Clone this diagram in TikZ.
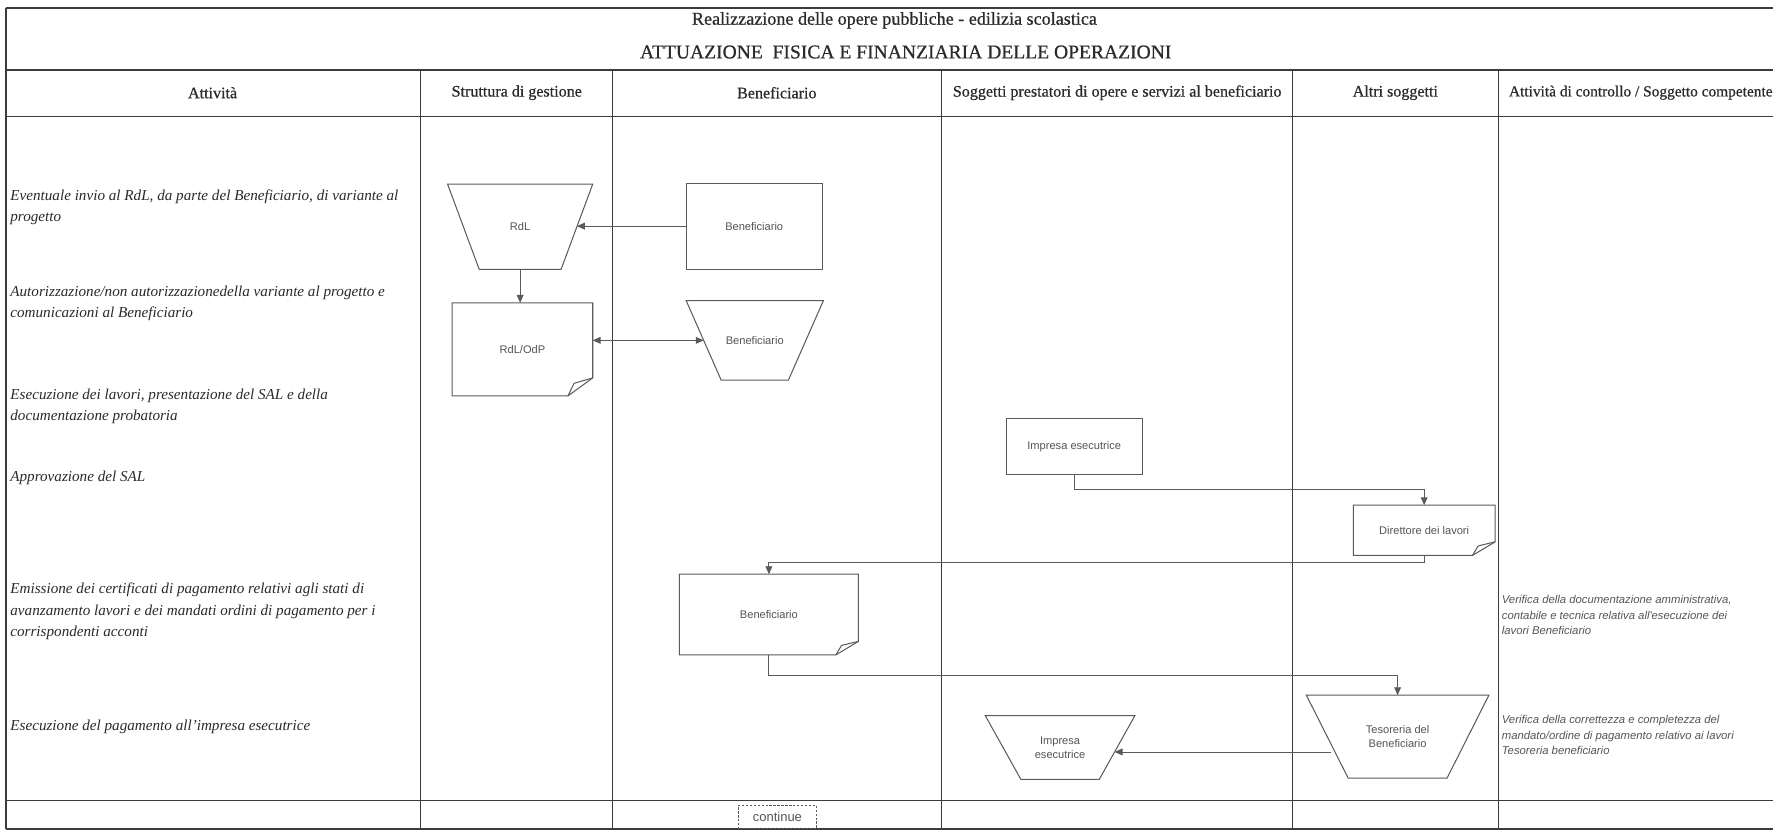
\documentclass[tikz,border=0pt]{standalone}
\usepackage{fontspec}
\setmainfont{Liberation Serif}
\newfontfamily\hdrfont{Liberation Serif}[FakeBold=0.6]
\newfontfamily\boxfont{Liberation Sans}
\usetikzlibrary{arrows.meta,calc}
\definecolor{ink}{HTML}{2A2A2A}
\definecolor{rule}{HTML}{3C3C3C}
\definecolor{shape}{HTML}{5A5A5A}
\definecolor{lbl}{HTML}{555555}
% outline of a trapezoid (wide side on top) inside the bounding box of a node
\newcommand\trapout[2]{\draw[shapeline] (#1.north west) -- (#1.north east) -- ([xshift=-#2]#1.south east) -- ([xshift=#2]#1.south west) -- cycle;}
% outline of a document with a curled bottom-right corner: node, curl width, curl height
\newcommand\docout[3]{%
  \draw[shapeline] ([yshift=#3]#1.south east) -- (#1.north east) -- (#1.north west) -- (#1.south west) -- ([xshift=-#2]#1.south east) -- cycle;
  \draw[shapeline] ([xshift=-#2]#1.south east) -- ([xshift=-0.75*#2,yshift=0.7*#3]#1.south east) -- ([yshift=#3]#1.south east);}
\begin{document}
\begin{tikzpicture}[x=1pt,y=-1pt,
  frameline/.style={draw=rule,line width=1.6pt},
  laneline/.style={draw=rule,line width=0.9pt},
  shapeline/.style={draw=shape,line width=0.9pt},
  hdr/.style={font=\hdrfont\fontsize{14.2}{17}\selectfont,text=ink},
  actv/.style={anchor=west,align=left,font=\itshape\fontsize{13.4}{19}\selectfont,text=ink,inner sep=0pt},
  ctrl/.style={anchor=west,align=left,font=\boxfont\itshape\fontsize{10}{13.5}\selectfont,text=lbl,inner sep=0pt},
  rectbox/.style={shapeline,inner sep=0pt,font=\boxfont\fontsize{9.8}{12.5}\selectfont,text=lbl,align=center},
  plainbox/.style={inner sep=0pt,font=\boxfont\fontsize{9.8}{12.5}\selectfont,text=lbl,align=center},
  arr/.style={draw=shape,line width=0.8pt,-{Triangle[length=7pt,width=6pt]}},
  dblarr/.style={draw=shape,line width=0.8pt,{Triangle[length=7pt,width=6pt]}-{Triangle[length=7pt,width=6pt]}},
]
\useasboundingbox (0,0) rectangle (1568,736);
\fill[white] (0,0) rectangle (1568,736);

% table frame
\draw[frameline] (5,7) -- (1568,7);
\draw[frameline] (5,62) -- (1568,62);
\draw[frameline] (5,103) -- (1568,103);
\draw[frameline] (5,708) -- (1568,708);
\draw[frameline] (5,733) -- (1568,733);
\draw[frameline] (5,7) -- (5,733);
\foreach \x in {372,542,833,1143,1325} \draw[laneline] (\x,62) -- (\x,733);

% titles
\node[font=\hdrfont\fontsize{16}{18}\selectfont,text=ink] (title) at (791,18) {Realizzazione delle opere pubbliche - edilizia scolastica};
\node[font=\hdrfont\fontsize{17.3}{19}\selectfont,text=ink] (subtitle) at (801,46) {ATTUAZIONE\ \ FISICA E FINANZIARIA DELLE OPERAZIONI};

% column headers
\node[hdr] (h1) at (188,82) {Attività};
\node[hdr] (h2) at (457,82) {Struttura di gestione};
\node[hdr] (h3) at (687,82) {Beneficiario};
\node[hdr] (h4) at (988,82) {Soggetti prestatori di opere e servizi al beneficiario};
\node[hdr] (h5) at (1234,82) {Altri soggetti};
\node[hdr,font=\hdrfont\fontsize{13.6}{17}\selectfont,anchor=west] (h6) at (1331,82) {Attività di controllo / Soggetto competente};

% activities
\node[actv] (a1) at (9,183.5) {Eventuale invio al RdL, da parte del Beneficiario, di variante al\\progetto};
\node[actv] (a2) at (9,268.5) {Autorizzazione/non autorizzazionedella variante al progetto e\\comunicazioni al Beneficiario};
\node[actv] (a3) at (9,359.5) {Esecuzione dei lavori, presentazione del SAL e della\\documentazione probatoria};
\node[actv] (a4) at (9,423) {Approvazione del SAL};
\node[actv] (a5) at (9,541) {Emissione dei certificati di pagamento relativi agli stati di\\avanzamento lavori e dei mandati ordini di pagamento per i\\corrispondenti acconti};
\node[actv] (a6) at (9,643) {Esecuzione del pagamento all'impresa esecutrice};

% controls
\node[ctrl] (c1) at (1328,544) {Verifica della documentazione amministrativa,\\contabile e tecnica relativa all'esecuzione dei\\lavori Beneficiario};
\node[ctrl] (c2) at (1328,650) {Verifica della correttezza e completezza del\\mandato/ordine di pagamento relativo ai lavori\\Tesoreria beneficiario};

% flow shapes
\node[plainbox,minimum width=128pt,minimum height=75pt] (rdl) at (460,200.5) {RdL};
\trapout{rdl}{28pt}
\node[rectbox,minimum width=120pt,minimum height=76pt] (ben1) at (667,200) {Beneficiario};
\node[plainbox,minimum width=124pt,minimum height=82pt] (rdlodp) at (462,309) {RdL/OdP};
\docout{rdlodp}{22pt}{16pt}
\node[plainbox,minimum width=121pt,minimum height=70pt] (ben2) at (667.5,301) {Beneficiario};
\trapout{ben2}{31pt}
\node[rectbox,minimum width=120pt,minimum height=50pt] (imp1) at (950,395) {Impresa esecutrice};
\node[plainbox,minimum width=125pt,minimum height=44pt] (dir) at (1259.5,469) {Direttore dei lavori};
\docout{dir}{20pt}{12pt}
\node[plainbox,minimum width=158pt,minimum height=71pt] (ben3) at (680,543.5) {Beneficiario};
\docout{ben3}{20pt}{12pt}
\node[plainbox,minimum width=161pt,minimum height=73pt] (tes) at (1236,651.5) {Tesoreria del\\Beneficiario};
\trapout{tes}{37pt}
\node[plainbox,minimum width=132pt,minimum height=56pt] (imp2) at (937.5,661) {Impresa\\esecutrice};
\trapout{imp2}{31.5pt}
\node[draw=shape,dash pattern=on 2pt off 1.5pt,line width=0.7pt,font=\boxfont\fontsize{11.5}{12}\selectfont,text=lbl,minimum width=69pt,minimum height=21pt,inner sep=0pt] (cont) at (687.5,722.5) {continue};

% connectors
\draw[arr,shorten >=-14pt] (ben1.west) -- (ben1.west -| rdl.east);
\draw[arr] (rdl.south) -- (rdl.south |- rdlodp.north);
\draw[dblarr,shorten >=-15.5pt] (ben2.west -| rdlodp.east) -- (ben2.west);
\draw[arr] (imp1.south) -- ++(0,12) -| (dir.north);
\draw[arr] (dir.south) -- ++(0,6) -| (ben3.north);
\draw[arr] (ben3.south) -- ++(0,18) -| (tes.north);
\draw[arr,shorten <=-22pt,shorten >=-18pt] ([yshift=-4pt]imp2.east -| tes.west) -- ([yshift=-4pt]imp2.east);
\end{tikzpicture}
\end{document}
